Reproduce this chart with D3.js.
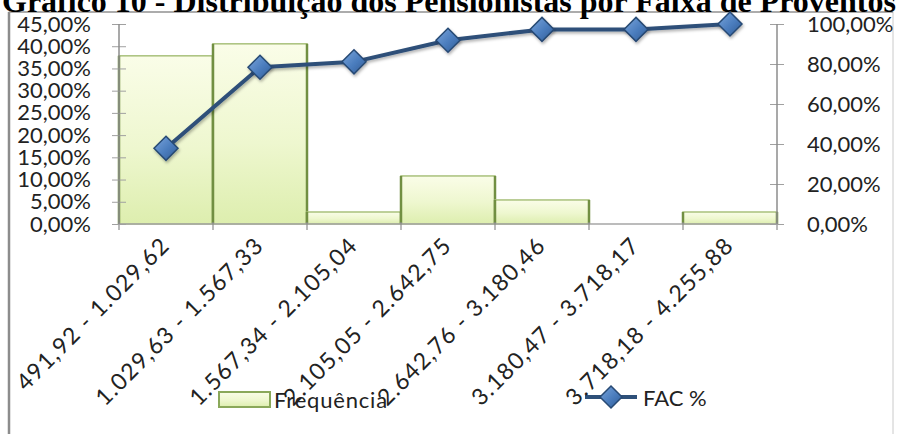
<!DOCTYPE html>
<html>
<head>
<meta charset="utf-8">
<script src="https://cdn.jsdelivr.net/npm/d3@7/dist/d3.min.js"></script>
<style>
  html, body { margin: 0; padding: 0; background: #fff; }
  svg { display: block; }
</style>
</head>
<body>
<svg id="chart" width="898" height="434"></svg>
<script>
// Faixas de proventos (R$)
const categories = [
  "491,92 - 1.029,62",
  "1.029,63 - 1.567,33",
  "1.567,34 - 2.105,04",
  "2.105,05 - 2.642,75",
  "2.642,76 - 3.180,46",
  "3.180,47 - 3.718,17",
  "3.718,18 - 4.255,88"
];
// Frequência relativa de cada faixa
const frequencia = [0.3784, 0.4054, 0.0270, 0.1081, 0.0541, 0.0000, 0.0270];
// Frequência acumulada (FAC %)
const fac = [0.3784, 0.7838, 0.8108, 0.9189, 0.9730, 0.9730, 1.0000];
// Marcas dos eixos
const leftTicks = [0, 0.05, 0.10, 0.15, 0.20, 0.25, 0.30, 0.35, 0.40, 0.45];
const rightTicks = [0, 0.20, 0.40, 0.60, 0.80, 1.00];

const titleText = "Gráfico 10 - Distribuição dos Pensionistas por Faixa de Proventos";
const seriesNames = ["Frequência", "FAC %"];

const ptBR = d3.formatLocale({ decimal: ",", thousands: ".", grouping: [3], currency: ["R$ ", ""] });
const pct = ptBR.format(".2%");

const svg = d3.select("#chart");
const W = 898, H = 434;
const plot = { left: 119, right: 777, top: 24, bottom: 224 };
const labelFont = "Lato, 'Open Sans', sans-serif";

const x = d3.scaleBand().domain(categories).range([plot.left, plot.right]).padding(0);
const yL = d3.scaleLinear().domain([0, 0.45]).range([plot.bottom, plot.top]);
const yR = d3.scaleLinear().domain([0, 1]).range([plot.bottom, plot.top]);

// gradients
const defs = svg.append("defs");
const barGrad = defs.append("linearGradient").attr("id", "barGrad")
  .attr("x1", 0).attr("y1", 0).attr("x2", 0).attr("y2", 1);
barGrad.append("stop").attr("offset", "0%").attr("stop-color", "#fafde8");
barGrad.append("stop").attr("offset", "55%").attr("stop-color", "#eef7cf");
barGrad.append("stop").attr("offset", "100%").attr("stop-color", "#ddeeae");

const mkGrad = defs.append("linearGradient").attr("id", "mkGrad")
  .attr("x1", 0).attr("y1", 0).attr("x2", 1).attr("y2", 1);
mkGrad.append("stop").attr("offset", "0%").attr("stop-color", "#7aa6dc");
mkGrad.append("stop").attr("offset", "55%").attr("stop-color", "#4a7cbd");
mkGrad.append("stop").attr("offset", "100%").attr("stop-color", "#2f5a93");

const shadow = defs.append("filter").attr("id", "shadow")
  .attr("x", "-20%").attr("y", "-20%").attr("width", "140%").attr("height", "140%");
shadow.append("feDropShadow").attr("dx", 1).attr("dy", 2).attr("stdDeviation", 1.5)
  .attr("flood-color", "#000").attr("flood-opacity", 0.3);

// outer frame
svg.append("rect")
  .attr("x", 9).attr("y", 12).attr("width", 884).attr("height", 440)
  .attr("fill", "none").attr("stroke", "#dcdcdc").attr("stroke-width", 1.5);
svg.append("line")
  .attr("x1", 9).attr("x2", 9).attr("y1", 12).attr("y2", H)
  .attr("stroke", "#8c8c8c").attr("stroke-width", 2.5);
svg.append("line")
  .attr("x1", 9).attr("x2", 893).attr("y1", 12).attr("y2", 12)
  .attr("stroke", "#9a9a9a").attr("stroke-width", 1.5);

// title
svg.append("text")
  .attr("x", 2).attr("y", 12)
  .attr("font-family", "'Liberation Serif', 'Times New Roman', serif")
  .attr("font-weight", "bold")
  .attr("font-size", 32)
  .attr("fill", "#000")
  .text(titleText);

// bars
const bars = svg.append("g");
categories.forEach((c, i) => {
  const v = frequencia[i];
  if (v <= 0) return;
  const x0 = x(c), x1 = x(c) + x.bandwidth();
  const yt = yL(v);
  bars.append("rect")
    .attr("x", x0).attr("y", yt)
    .attr("width", x.bandwidth()).attr("height", plot.bottom - yt)
    .attr("fill", "url(#barGrad)")
    .attr("stroke", "#a9c17c").attr("stroke-width", 1.5);
  [x0, x1].forEach(xx => {
    bars.append("line")
      .attr("x1", xx).attr("x2", xx).attr("y1", yt).attr("y2", plot.bottom)
      .attr("stroke", "#718f42").attr("stroke-width", 2.5);
  });
});

// x axis
const xAxisG = svg.append("g").attr("transform", `translate(0,${plot.bottom})`);
xAxisG.append("line")
  .attr("x1", plot.left).attr("x2", plot.right).attr("y1", 0).attr("y2", 0)
  .attr("stroke", "#a6a6a6").attr("stroke-width", 1.5);
const boundaries = categories.map(c => x(c)).concat([x.range()[1]]);
xAxisG.selectAll("line.tick").data(boundaries).join("line").attr("class", "tick")
  .attr("x1", d => d).attr("x2", d => d).attr("y1", -2).attr("y2", 6)
  .attr("stroke", "#8c8c8c").attr("stroke-width", 1.2);

// left axis
const leftAxis = svg.append("g")
  .attr("transform", `translate(${plot.left},0)`)
  .call(d3.axisLeft(yL).tickValues(leftTicks).tickFormat(pct).tickSize(7).tickPadding(21));
leftAxis.select(".domain").remove();
leftAxis.append("line").attr("x1", 0).attr("x2", 0).attr("y1", plot.top).attr("y2", plot.bottom)
  .attr("stroke", "#8c8c8c").attr("stroke-width", 1.5);
leftAxis.selectAll(".tick line").attr("x1", 7).attr("stroke", "#a0a0a0");
leftAxis.selectAll(".tick text")
  .attr("font-family", labelFont).attr("font-size", 22).attr("fill", "#222");

// right axis
const rightAxis = svg.append("g")
  .attr("transform", `translate(${plot.right},0)`)
  .call(d3.axisRight(yR).tickValues(rightTicks).tickFormat(pct).tickSize(7).tickPadding(23));
rightAxis.select(".domain").remove();
rightAxis.append("line").attr("x1", 0).attr("x2", 0).attr("y1", plot.top).attr("y2", plot.bottom)
  .attr("stroke", "#8c8c8c").attr("stroke-width", 1.5);
rightAxis.selectAll(".tick line").attr("x1", -7).attr("stroke", "#a0a0a0");
rightAxis.selectAll(".tick text")
  .attr("font-family", labelFont).attr("font-size", 22).attr("fill", "#222");

// FAC line
const cx = c => x(c) + x.bandwidth() / 2;
const lineGen = d3.line().x((d, i) => cx(categories[i])).y(d => yR(d));
svg.append("path").datum(fac)
  .attr("d", lineGen)
  .attr("fill", "none").attr("stroke", "#2e5079").attr("stroke-width", 4)
  .attr("stroke-linejoin", "round")
  .attr("filter", "url(#shadow)");

const diamond = r => `M0,${-r}L${r},0L0,${r}L${-r},0Z`;
svg.append("g").selectAll("path").data(fac).join("path")
  .attr("transform", (d, i) => `translate(${cx(categories[i])},${yR(d)})`)
  .attr("d", diamond(12))
  .attr("fill", "url(#mkGrad)").attr("stroke", "#284a74").attr("stroke-width", 1.5)
  .attr("filter", "url(#shadow)");

// legend
const legend = svg.append("g");
legend.append("rect")
  .attr("x", 219).attr("y", 392).attr("width", 51).attr("height", 15)
  .attr("fill", "url(#barGrad)").attr("stroke", "#8aa85a").attr("stroke-width", 2);
legend.append("text")
  .attr("x", 274).attr("y", 408)
  .attr("font-family", labelFont).attr("font-size", 22).attr("letter-spacing", 0.8)
  .attr("fill", "#222")
  .text(seriesNames[0]);
legend.append("line")
  .attr("x1", 585).attr("x2", 637).attr("y1", 397).attr("y2", 397)
  .attr("stroke", "#2e5079").attr("stroke-width", 4);
legend.append("path")
  .attr("transform", "translate(611,397)")
  .attr("d", diamond(11))
  .attr("fill", "url(#mkGrad)").attr("stroke", "#284a74").attr("stroke-width", 1.5);
legend.append("text")
  .attr("x", 643).attr("y", 406)
  .attr("font-family", labelFont).attr("font-size", 22).attr("fill", "#222")
  .text(seriesNames[1]);

// category labels (rotated)
svg.append("g").selectAll("text").data(categories).join("text")
  .attr("transform", c => `translate(${cx(c) + 5},${plot.bottom + 23}) rotate(-45)`)
  .attr("text-anchor", "end")
  .attr("font-family", labelFont).attr("font-size", 23).attr("letter-spacing", 1.3)
  .attr("fill", "#222")
  .text(c => c);
</script>
</body>
</html>
